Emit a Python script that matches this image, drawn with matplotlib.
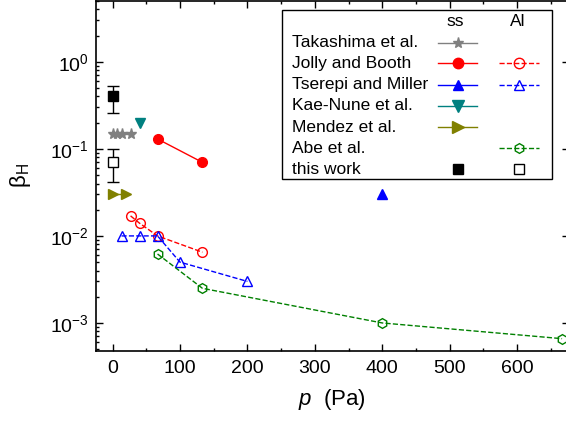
import matplotlib
matplotlib.use("Agg")
import matplotlib.pyplot as plt
from matplotlib.patches import Rectangle
from matplotlib.ticker import LogLocator, MultipleLocator, NullFormatter

plt.rcParams['font.family'] = ['Liberation Sans', 'DejaVu Sans']
plt.rcParams['mathtext.fontset'] = 'custom'
plt.rcParams['mathtext.rm'] = 'Liberation Sans'
plt.rcParams['mathtext.it'] = 'Liberation Sans:italic'
plt.rcParams['mathtext.default'] = 'regular'

# data (pressure in Pa, beta_H)
tak_p = [1.3, 6.7, 13.3, 26.7]
tak_b = [0.15, 0.15, 0.15, 0.15]

jolly_ss_p = [66.7, 133.3]
jolly_ss_b = [0.13, 0.07]
jolly_al_p = [26.7, 40.0, 66.7, 133.3]
jolly_al_b = [0.017, 0.014, 0.010, 0.0065]

tser_ss_p = [400.0]
tser_ss_b = [0.03]
tser_al_p = [13.3, 40.0, 66.7, 100.0, 200.0]
tser_al_b = [0.010, 0.010, 0.010, 0.005, 0.003]

kae_p = [40.0]
kae_b = [0.20]

mendez_p = [1.3, 20.0]
mendez_b = [0.030, 0.030]

abe_p = [66.7, 133.3, 400.0, 666.7]
abe_b = [0.0062, 0.0025, 0.0010, 0.00066]

this_ss_p = [0.0]
this_ss_b = [0.40]
this_ss_err = [[0.14], [0.13]]
this_al_p = [0.0]
this_al_b = [0.07]
this_al_err = [[0.028], [0.03]]

W, H = 566, 421
fig = plt.figure(figsize=(W / 100, H / 100), dpi=100)
ax = fig.add_axes([95.7 / W, 1 - 350.7 / H, (569 - 95.7) / W, (350.7 - 1) / H])

ax.plot(tak_p, tak_b, '-', color='gray', marker='*', ms=8, lw=1)
ax.plot(jolly_ss_p, jolly_ss_b, '-', color='red', marker='o', ms=7, lw=1)
ax.plot(jolly_al_p, jolly_al_b, '--', color='red', marker='o', ms=7, mfc='none', lw=1)
ax.plot(tser_ss_p, tser_ss_b, '-', color='blue', marker='^', ms=7, lw=1)
ax.plot(tser_al_p, tser_al_b, '--', color='blue', marker='^', ms=7, mfc='none', lw=1)
ax.plot(kae_p, kae_b, '-', color='teal', marker='v', ms=7, lw=1)
ax.plot(mendez_p, mendez_b, '-', color='olive', marker='>', ms=7, lw=1)
ax.plot(abe_p, abe_b, '--', color='green', marker='h', ms=7, mfc='none', lw=1)
ax.errorbar(this_ss_p, this_ss_b, yerr=this_ss_err, fmt='s', color='black', ms=7.5,
            capsize=4, elinewidth=1)
ax.errorbar(this_al_p, this_al_b, yerr=this_al_err, fmt='s', color='black', mfc='white',
            ms=7.5, capsize=4, elinewidth=1)

ax.set_yscale('log')
ax.set_xlim(-25, 677)
ax.set_ylim(4.8e-4, 5)
ax.xaxis.set_major_locator(MultipleLocator(100))
ax.xaxis.set_minor_locator(MultipleLocator(50))
ax.yaxis.set_major_locator(LogLocator(base=10, numticks=10))
ax.yaxis.set_minor_locator(LogLocator(base=10, subs=range(2, 10), numticks=20))
ax.yaxis.set_minor_formatter(NullFormatter())
ax.tick_params(which='both', direction='in', top=True, right=True, labelsize=14, width=1)
ax.tick_params(which='major', length=5)
ax.tick_params(which='minor', length=2.5)
ax.tick_params(axis='x', pad=7)
ax.tick_params(axis='y', pad=5)
for s in ax.spines.values():
    s.set_linewidth(1.2)

ax.set_xlabel(r'$\it{p}$  (Pa)', fontsize=16, labelpad=7)
ax.set_ylabel(r'$\beta_H$', fontsize=16, labelpad=12)

# legend drawn in pixel coordinates of the figure
lax = fig.add_axes([0, 0, 1, 1], zorder=5)
lax.set_xlim(0, W)
lax.set_ylim(H, 0)
lax.axis('off')
lax.add_patch(Rectangle((281.7, 10), 270, 169, facecolor='white', edgecolor='black', lw=1))
lax.text(455, 21.7, 'ss', fontsize=12.5, ha='center', va='center')
lax.text(518, 21.7, 'Al', fontsize=12.5, ha='center', va='center')

labels = ['Takashima et al.', 'Jolly and Booth', 'Tserepi and Miller', 'Kae-Nune et al.',
          'Mendez et al.', 'Abe et al.', 'this work']
rows = [42.7, 63.3, 85, 106, 127.3, 148.3, 169.3]
ss_style = [('gray', '*', 'gray', 8), ('red', 'o', 'red', 7.5), ('blue', '^', 'blue', 7.5),
            ('teal', 'v', 'teal', 8), ('olive', '>', 'olive', 8), None, ('none', 's', 'black', 7)]
al_style = [None, ('red', 'o', 'none', 7.5), ('blue', '^', 'none', 7.5), None, None,
            ('green', 'h', 'none', 7), ('none', 's', 'white', 7)]

for lab, y, ss, al in zip(labels, rows, ss_style, al_style):
    lax.text(292.3, y, lab, fontsize=12.5, ha='left', va='center')
    if ss is not None:
        c, m, fc, ms = ss
        mec = 'black' if m == 's' else c
        lax.plot([438, 477], [y, y], '-', color=c, lw=1)
        lax.plot([457.5], [y], marker=m, color=mec, mfc=fc, ms=ms, ls='none')
    if al is not None:
        c, m, fc, ms = al
        mec = 'black' if m == 's' else c
        lax.plot([499, 538.5], [y, y], '--', color=c, lw=1)
        lax.plot([519], [y], marker=m, color=mec, mfc=fc, ms=ms, ls='none')

fig.savefig('out.png', dpi=100)
